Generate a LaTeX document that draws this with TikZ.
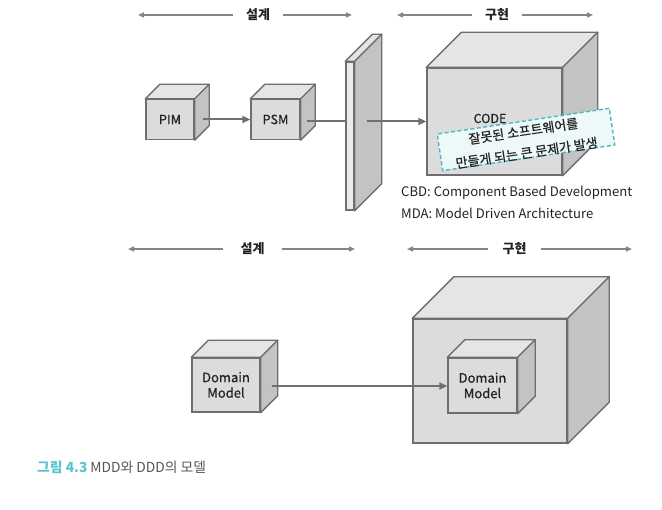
\documentclass[tikz,border=0pt]{standalone}
\usepackage{fontspec}
\setmainfont{Noto Sans CJK KR}
\newfontfamily\medfont{Noto Sans CJK KR}[FakeBold=0.5]
\usetikzlibrary{arrows.meta,calc}
\definecolor{edgec}{HTML}{6E6E6E}
\definecolor{frontc}{HTML}{DCDCDC}
\definecolor{topc}{HTML}{E5E5E5}
\definecolor{sidec}{HTML}{C3C3C3}
\definecolor{wallc}{HTML}{EBEBEB}
\definecolor{connc}{HTML}{707070}
\definecolor{secc}{HTML}{858585}
\definecolor{textc}{HTML}{222222}
\definecolor{calloutc}{HTML}{4DB8C2}
\definecolor{calloutfill}{HTML}{EDF8F9}
\definecolor{capteal}{HTML}{5BC3CD}
\definecolor{capgray}{HTML}{555555}
\newcommand\cubefaces[2]{%
  \filldraw[facestyle, fill=topc] (#1.north west) -- ++(#2,-#2) -- ($(#1.north east)+(#2,-#2)$) -- (#1.north east) -- cycle;
  \filldraw[facestyle, fill=sidec] (#1.north east) -- ++(#2,-#2) -- ($(#1.south east)+(#2,-#2)$) -- (#1.south east) -- cycle;
}
\begin{document}
\begin{tikzpicture}[x=1pt,y=-1pt,
  facestyle/.style={draw=edgec, line width=1.4pt, line join=round},
  front/.style={draw=edgec, line width=1.4pt, fill=frontc, inner sep=0pt, align=center, text=textc, font=\medfont\fontsize{12.8}{16}\selectfont},
  conn/.style={draw=connc, line width=2pt, -{Triangle[length=8pt,width=7pt]}},
  plainconn/.style={draw=connc, line width=2pt},
  secarrow/.style={draw=secc, line width=1.5pt, -{Triangle[length=6pt,width=5pt]}},
  secl/.style={font=\bfseries\fontsize{13}{15}\selectfont, text=textc, inner sep=0pt, minimum height=14pt},
  note/.style={anchor=west, font=\fontsize{13.1}{15}\selectfont, text=textc, inner sep=0pt},
]
\useasboundingbox (0,0) rectangle (662,510);

% ---------- top section labels ----------
\node[secl, minimum width=50pt] (s1) at (258,15) {설계};
\coordinate (s1l) at (138,15);
\coordinate (s1r) at (352,15);
\draw[secarrow] (s1.west) -- (s1l);
\draw[secarrow] (s1.east) -- (s1r);
\node[secl, minimum width=50pt] (s2) at (497,15) {구현};
\coordinate (s2l) at (397,15);
\coordinate (s2r) at (593,15);
\draw[secarrow] (s2.west) -- (s2l);
\draw[secarrow] (s2.east) -- (s2r);

% ---------- top cubes ----------
\node[front, minimum width=48pt, minimum height=40pt] (pim) at (170,119.5) {PIM};
\cubefaces{pim}{14.5}
\node[front, minimum width=49pt, minimum height=40pt] (psm) at (275.5,119.5) {PSM};
\cubefaces{psm}{14.5}
\node[front, fill=wallc, minimum width=8pt, minimum height=148pt] (wall) at (350,136) {};
\cubefaces{wall}{27}
\node[front, minimum width=135pt, minimum height=107pt] (code) at (494.5,121.5) {};
\cubefaces{code}{35}
\node[font=\medfont\fontsize{12.5}{14}\selectfont, text=textc, inner sep=0pt] (codel) at (490,118.5) {CODE};

\draw[conn] ($(pim.east)+(8,0)$) -- (psm.west);
\draw[plainconn] ($(psm.east)+(6,1.5)$) -- (wall.west |- 0,121);
\draw[conn] ($(wall.east |- code.west)+(12,0)$) -- (code.west);

% ---------- callout ----------
\node[draw=calloutc, line width=1.4pt, dash pattern=on 4pt off 2.5pt, fill=calloutfill,
      rotate=8.5, minimum width=174pt, minimum height=37pt] (cbox) at (526,139.5) {};
\node[rotate=8.5, align=center, text=textc, inner sep=0pt,
      font=\medfont\fontsize{13}{22}\selectfont] (ctext) at (525,142) {잘못된 소프트웨어를\\만들게 되는 큰 문제가 발생};

% ---------- notes ----------
\node[note] (cbd) at (401,193) {CBD: Component Based Development};
\node[note] (mda) at (401,213) {MDA: Model Driven Architecture};

% ---------- bottom section labels ----------
\node[secl, minimum width=59pt] (s3) at (252.5,249) {설계};
\coordinate (s3l) at (128,249);
\coordinate (s3r) at (355,249);
\draw[secarrow] (s3.west) -- (s3l);
\draw[secarrow] (s3.east) -- (s3r);
\node[secl, minimum width=53pt] (s4) at (514.5,249) {구현};
\coordinate (s4l) at (407,249);
\coordinate (s4r) at (632,249);
\draw[secarrow] (s4.west) -- (s4l);
\draw[secarrow] (s4.east) -- (s4r);

% ---------- bottom cubes ----------
\node[front, font=\medfont\fontsize{13}{15.5}\selectfont, minimum width=68pt, minimum height=54pt] (dm1) at (226,385) {Domain\\Model};
\cubefaces{dm1}{17}
\node[front, minimum width=154pt, minimum height=124pt] (big) at (490,381) {};
\cubefaces{big}{41.5}
\node[front, font=\medfont\fontsize{13}{15.5}\selectfont, minimum width=69pt, minimum height=55pt] (dm2) at (482.5,385.5) {Domain\\Model};
\cubefaces{dm2}{17.5}
\draw[conn] ($(dm1.east)+(11,1)$) -- (dm2.west |- 0,386);

% ---------- caption ----------
\node[anchor=west, inner sep=0pt, font=\fontsize{13.8}{16}\selectfont] (cap) at (37,467)
  {\textcolor{capteal}{\bfseries 그림 4.3} \textcolor{capgray}{MDD와 DDD의 모델}};
\end{tikzpicture}
\end{document}
